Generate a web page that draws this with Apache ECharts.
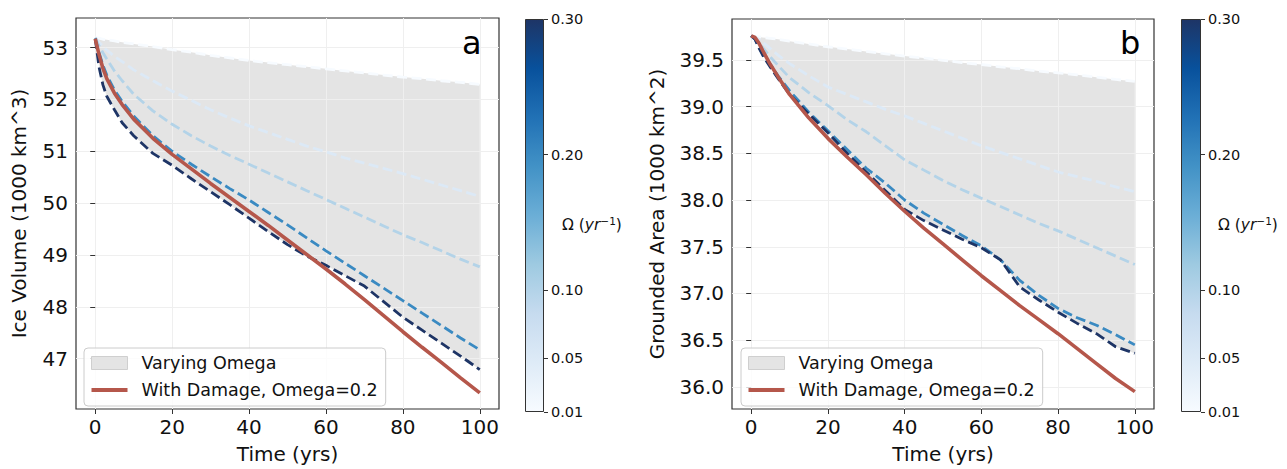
<!DOCTYPE html>
<html>
<head>
<meta charset="utf-8">
<script src="https://cdn.jsdelivr.net/npm/echarts@6/dist/echarts.min.js"></script>
<style>
  html, body { margin: 0; padding: 0; background: #fff; }
  #chart { width: 1287px; height: 469px; }
</style>
</head>
<body>
<div id="chart"></div>
<script>
// time axis shared by every run
const years = [0, 1, 2, 3, 5, 7, 10, 15, 20, 25, 30, 35, 40, 45, 50, 55, 60, 65, 70, 75, 80, 85, 90, 95, 100];
const omegas = [0.01, 0.05, 0.1, 0.2, 0.3];

// panel a: ice volume (1000 km^3)
const volW001 = [53.19, 53.18, 53.16, 53.15, 53.13, 53.10, 53.07, 53.02, 52.96, 52.91, 52.85, 52.80, 52.75, 52.71, 52.67, 52.63, 52.59, 52.55, 52.51, 52.47, 52.43, 52.40, 52.36, 52.33, 52.29];
const volW005 = [53.19, 53.10, 53.02, 52.95, 52.83, 52.73, 52.57, 52.36, 52.16, 51.98, 51.80, 51.64, 51.49, 51.36, 51.23, 51.10, 50.99, 50.87, 50.77, 50.67, 50.57, 50.46, 50.35, 50.24, 50.13];
const volW010 = [53.19, 53.03, 52.90, 52.78, 52.55, 52.36, 52.10, 51.78, 51.52, 51.30, 51.10, 50.92, 50.75, 50.58, 50.41, 50.24, 50.07, 49.90, 49.73, 49.56, 49.39, 49.24, 49.08, 48.92, 48.77];
const volW020 = [53.17, 52.90, 52.66, 52.47, 52.18, 51.96, 51.68, 51.30, 51.00, 50.75, 50.51, 50.28, 50.06, 49.82, 49.58, 49.33, 49.08, 48.84, 48.60, 48.36, 48.12, 47.88, 47.64, 47.40, 47.17];
const volW030 = [53.17, 52.62, 52.28, 52.06, 51.80, 51.55, 51.30, 50.96, 50.73, 50.47, 50.22, 49.97, 49.71, 49.45, 49.20, 48.98, 48.80, 48.60, 48.40, 48.10, 47.80, 47.55, 47.30, 47.05, 46.79];
const volDamage = [53.17, 52.86, 52.60, 52.40, 52.12, 51.90, 51.62, 51.25, 50.94, 50.66, 50.38, 50.11, 49.84, 49.57, 49.29, 49.01, 48.73, 48.44, 48.14, 47.83, 47.52, 47.22, 46.93, 46.63, 46.34];

// panel b: grounded area (1000 km^2)
const areaW001 = [39.757, 39.75, 39.745, 39.74, 39.73, 39.72, 39.70, 39.67, 39.64, 39.615, 39.59, 39.565, 39.54, 39.52, 39.495, 39.47, 39.45, 39.425, 39.405, 39.38, 39.36, 39.34, 39.315, 39.29, 39.27];
const areaW005 = [39.757, 39.74, 39.72, 39.69, 39.62, 39.55, 39.46, 39.33, 39.21, 39.13, 39.05, 38.97, 38.90, 38.82, 38.74, 38.66, 38.58, 38.51, 38.44, 38.37, 38.30, 38.25, 38.20, 38.14, 38.09];
const areaW010 = [39.757, 39.73, 39.68, 39.63, 39.53, 39.44, 39.31, 39.15, 39.01, 38.86, 38.73, 38.58, 38.43, 38.32, 38.21, 38.11, 38.02, 37.93, 37.84, 37.75, 37.67, 37.58, 37.49, 37.40, 37.31];
const areaW020 = [39.757, 39.72, 39.64, 39.56, 39.45, 39.33, 39.17, 38.94, 38.74, 38.54, 38.34, 38.18, 38.00, 37.86, 37.74, 37.62, 37.51, 37.36, 37.14, 36.98, 36.84, 36.74, 36.66, 36.56, 36.45];
const areaW030 = [39.757, 39.72, 39.63, 39.55, 39.42, 39.30, 39.13, 38.92, 38.72, 38.50, 38.30, 38.10, 37.90, 37.78, 37.68, 37.58, 37.49, 37.36, 37.07, 36.93, 36.80, 36.68, 36.57, 36.43, 36.36];
const areaDamage = [39.757, 39.74, 39.68, 39.60, 39.45, 39.32, 39.13, 38.88, 38.66, 38.46, 38.27, 38.07, 37.88, 37.70, 37.53, 37.36, 37.19, 37.03, 36.87, 36.72, 36.57, 36.41, 36.25, 36.09, 35.95];

const xTicks = [0, 20, 40, 60, 80, 100];
const volTicks = [47, 48, 49, 50, 51, 52, 53];
const areaTicks = [36, 36.5, 37, 37.5, 38, 38.5, 39, 39.5];
const cbarTicks = [0.01, 0.05, 0.1, 0.2, 0.3];

const FONT = "DejaVu Sans";
const bluesStops = ["#f7fbff", "#deebf7", "#c6dbef", "#9ecae1", "#6baed6", "#4292c6", "#2171b5", "#08519c", "#1e3566"];
const FILL = "#e4e4e4";
const RED = "#b5574b";

function hexToRgb(h) {
  return [1, 3, 5].map(i => parseInt(h.slice(i, i + 2), 16));
}
function blues(t) {
  const n = bluesStops.length - 1;
  const p = Math.max(0, Math.min(1, t)) * n;
  const i = Math.min(Math.floor(p), n - 1);
  const f = p - i;
  const a = hexToRgb(bluesStops[i]), b = hexToRgb(bluesStops[i + 1]);
  const c = a.map((v, k) => Math.round(v + (b[k] - v) * f));
  return "rgb(" + c.join(",") + ")";
}
const omegaColor = w => blues((w - 0.01) / 0.29);

const pairs = arr => years.map((x, k) => [x, arr[k]]);

function panelSeries(idx, runs, damage) {
  const lower = years.map((x, k) => Math.min(...runs.map(r => r[k])));
  const upper = years.map((x, k) => Math.max(...runs.map(r => r[k])));
  const out = [];
  // shaded band between the lowest and highest omega run
  out.push({
    name: "Varying Omega", type: "custom", xAxisIndex: idx, yAxisIndex: idx,
    data: years.map((x, k) => [x, lower[k], upper[k]]),
    silent: true, z: -1, itemStyle: { color: FILL },
    renderItem: function (params, api) {
      if (params.dataIndex !== 0) return null;
      const top = years.map((x, k) => api.coord([x, upper[k]]));
      const bot = years.map((x, k) => api.coord([x, lower[k]])).reverse();
      return { type: "polygon", shape: { points: top.concat(bot) }, style: { fill: FILL } };
    }
  });
  runs.forEach((r, j) => {
    out.push({
      type: "line", xAxisIndex: idx, yAxisIndex: idx, data: pairs(r),
      symbol: "none", silent: true, z: 2,
      lineStyle: { color: omegaColor(omegas[j]), width: 2.8, type: [10, 4.5] }
    });
  });
  out.push({
    name: "With Damage, Omega=0.2", type: "line", xAxisIndex: idx, yAxisIndex: idx,
    data: pairs(damage), symbol: "none", silent: true, z: 3,
    itemStyle: { color: RED },
    lineStyle: { color: RED, width: 3.6 }
  });
  return out;
}

function cbarSeries(idx) {
  const stops = bluesStops.map((c, i) => ({ offset: i / (bluesStops.length - 1), color: c }));
  return [
    { type: "bar", xAxisIndex: idx, yAxisIndex: idx, stack: "cb" + idx, data: [cbarTicks[0]],
      barWidth: "100%", silent: true, itemStyle: { color: "rgba(0,0,0,0)" } },
    { type: "bar", xAxisIndex: idx, yAxisIndex: idx, stack: "cb" + idx,
      data: [cbarTicks[cbarTicks.length - 1] - cbarTicks[0]],
      barWidth: "100%", silent: true,
      itemStyle: { color: new echarts.graphic.LinearGradient(0, 1, 0, 0, stops),
                   borderColor: "#333", borderWidth: 1 } }
  ];
}

function valueX(gridIndex) {
  return {
    type: "value", gridIndex, min: -5, max: 105,
    name: "Time (yrs)", nameLocation: "middle", nameGap: 35,
    nameTextStyle: { fontFamily: FONT, fontSize: 20, color: "#111" },
    axisLine: { show: false },
    axisTick: { show: true, length: 5, lineStyle: { color: "#333" }, customValues: xTicks },
    axisLabel: { fontFamily: FONT, fontSize: 20, color: "#111", margin: 8, customValues: xTicks },
    splitLine: { show: true, lineStyle: { color: "#efefef", width: 1 } }
  };
}
function valueY(gridIndex, min, max, ticks, name, gap, digits) {
  return {
    type: "value", gridIndex, min, max,
    name, nameLocation: "middle", nameGap: gap,
    nameTextStyle: { fontFamily: FONT, fontSize: 20, color: "#111" },
    axisLine: { show: false },
    axisTick: { show: true, length: 5, lineStyle: { color: "#333" }, customValues: ticks },
    axisLabel: { fontFamily: FONT, fontSize: 20, color: "#111", margin: 8, customValues: ticks,
                 formatter: v => v.toFixed(digits) },
    splitLine: { show: true, lineStyle: { color: "#efefef", width: 1 } }
  };
}
function cbarY(gridIndex) {
  return {
    type: "value", gridIndex, min: cbarTicks[0], max: cbarTicks[cbarTicks.length - 1],
    position: "right",
    axisLine: { show: false },
    axisTick: { show: true, length: 4, lineStyle: { color: "#333" }, customValues: cbarTicks },
    axisLabel: { fontFamily: FONT, fontSize: 14.5, color: "#111", margin: 7, customValues: cbarTicks,
                 formatter: v => v.toFixed(2) },
    splitLine: { show: false }
  };
}
function legendAt(left) {
  return {
    orient: "vertical", left, top: 348,
    itemWidth: 36, itemHeight: 13, itemGap: 9,
    padding: [6, 8, 7, 7],
    backgroundColor: "rgba(255,255,255,0.8)", borderColor: "#cccccc", borderWidth: 1, borderRadius: 4,
    textStyle: { fontFamily: FONT, fontSize: 17.5, color: "#111", lineHeight: 17, padding: [0, 0, 0, 9] },
    selectedMode: false,
    data: [
      { name: "Varying Omega", icon: "rect", itemStyle: { color: FILL, borderColor: "#cfcfcf", borderWidth: 1 } },
      { name: "With Damage, Omega=0.2", icon: "path://M0,0L36,0L36,4L0,4Z", itemStyle: { color: RED } }
    ]
  };
}
const omegaLabel = {
  text: "{n|Ω (}{i|yr}{s|−1}{n|)}",
  textStyle: {
    fontWeight: "normal",
    rich: {
      n: { fontFamily: FONT, fontSize: 15.5, fontWeight: "normal", color: "#111" },
      i: { fontFamily: FONT, fontSize: 15.5, fontWeight: "normal", fontStyle: "italic", color: "#111" },
      s: { fontFamily: FONT, fontSize: 10.5, fontWeight: "normal", color: "#111", padding: [0, 0, 9, 0] }
    }
  }
};

const chart = echarts.init(document.getElementById("chart"), null, { renderer: "svg" });
chart.setOption({
  animation: false,
  backgroundColor: "#fff",
  title: [
    { text: "a", left: 457, top: 22, textStyle: { fontFamily: FONT, fontSize: 32, fontWeight: "normal", color: "#000" } },
    { text: "b", left: 1115, top: 22, textStyle: { fontFamily: FONT, fontSize: 32, fontWeight: "normal", color: "#000" } },
    Object.assign({ left: 557, top: 210 }, omegaLabel),
    Object.assign({ left: 1213, top: 210 }, omegaLabel)
  ],
  legend: [legendAt(84), legendAt(741)],
  grid: [
    { left: 76, top: 18, width: 423, height: 395, show: true, borderColor: "#333", borderWidth: 1.2, backgroundColor: "transparent" },
    { left: 732, top: 19, width: 422, height: 394, show: true, borderColor: "#333", borderWidth: 1.2, backgroundColor: "transparent" },
    { left: 525, top: 19, width: 19, height: 393 },
    { left: 1181, top: 19, width: 20, height: 393 }
  ],
  xAxis: [
    valueX(0), valueX(1),
    { type: "category", gridIndex: 2, data: ["cb"], show: false },
    { type: "category", gridIndex: 3, data: ["cb"], show: false }
  ],
  yAxis: [
    valueY(0, 46.03, 53.57, volTicks, "Ice Volume (1000 km^3)", 47, 0),
    valueY(1, 35.764, 39.937, areaTicks, "Grounded Area (1000 km^2)", 65, 1),
    cbarY(2), cbarY(3)
  ],
  series: [
    ...panelSeries(0, [volW001, volW005, volW010, volW020, volW030], volDamage),
    ...panelSeries(1, [areaW001, areaW005, areaW010, areaW020, areaW030], areaDamage),
    ...cbarSeries(2),
    ...cbarSeries(3)
  ]
});
</script>
</body>
</html>
